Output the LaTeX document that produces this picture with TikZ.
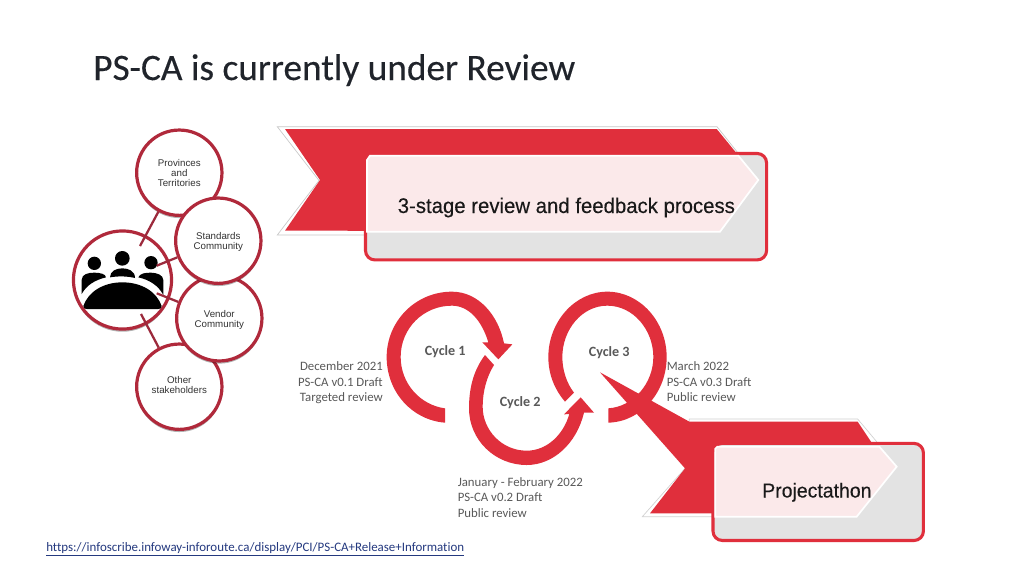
\documentclass[tikz,border=0pt]{standalone}
\usepackage{fontspec}
\setmainfont[Ligatures=NoCommon]{Carlito}
\newfontfamily\titlefont[FakeBold=0.3,Ligatures=NoCommon]{Carlito}
\newfontfamily\arialfont{Liberation Sans}
\newfontfamily\bannerfont[FakeStretch=0.96,FakeBold=0.25]{Liberation Sans}
\usetikzlibrary{shadows}
\definecolor{ribred}{HTML}{E02F3C}
\definecolor{ringred}{HTML}{B0293B}
\definecolor{linkred}{HTML}{9C2A3C}
\definecolor{boxgrey}{HTML}{E3E3E3}
\definecolor{pinkfill}{HTML}{FBE9EA}
\definecolor{labelgrey}{HTML}{595959}
\definecolor{linkblue}{HTML}{24397F}
\definecolor{titleink}{HTML}{20242B}
\tikzset{
  ring/.style={circle,draw=ringred,line width=2.4pt,fill=white,minimum size=64pt,inner sep=0pt,align=center,
    font=\arialfont\fontsize{7.3}{7.5}\selectfont,text=black!80,
    drop shadow={opacity=.3,shadow xshift=0pt,shadow yshift=-2pt,fill=black}},
  hub/.style={ring,minimum size=73.6pt},
  spoke/.style={draw=linkred,line width=1.7pt},
  redshape/.style={fill=ribred,draw=none},
  outline/.style={fill=white,draw=black!22,line width=.5pt},
  panel/.style={fill=boxgrey,draw=ribred,line width=2.3pt,rounded corners=7pt,outer sep=0pt,anchor=north west,inner sep=0pt},
  pinkpart/.style={fill=pinkfill,draw=white,line width=1.3pt},
  note/.style={inner sep=0pt,text=labelgrey,font=\fontsize{9.6}{11.7}\selectfont},
  cyclelabel/.style={inner sep=0pt,anchor=base west,text=labelgrey,font=\bfseries\fontsize{10.6}{12}\selectfont},
  boxlabel/.style={inner sep=0pt,anchor=base west,text=black!90}
}
\begin{document}
\begin{tikzpicture}[x=0.75pt,y=-0.75pt]
\useasboundingbox (0,0) rectangle (1024,576);
\fill[white] (0,0) rectangle (1024,576);

\node[inner sep=0pt,anchor=base west,text=titleink,font=\titlefont\fontsize{28}{30}\selectfont] (title) at (93,80) {PS-CA is currently under Review};

% hub and spokes
\node[hub] (hubnode) at (122.5,280) {};
\begin{scope}[shift={(60,120)},x=0.25pt,y=-0.25pt]
\fill[black] (103,430) circle (20) (187,415) circle (22) (273,428) circle (20);
\fill[black] (65,522) -- (65,480) .. controls (65,462) and (85,458) .. (103,458) .. controls (120,458) and (138,462) .. (138,472) .. controls (105,480) and (80,495) .. (65,522) -- cycle;
\fill[black] (150,472) .. controls (150,452) and (170,445) .. (187,445) .. controls (205,445) and (225,452) .. (225,474) .. controls (200,468) and (175,468) .. (150,472) -- cycle;
\fill[black] (235,472) .. controls (240,460) and (255,458) .. (273,458) .. controls (290,458) and (310,465) .. (310,480) -- (310,525) .. controls (295,497) and (270,480) .. (235,472) -- cycle;
\fill[black] (70,558) .. controls (85,515) and (130,487) .. (187,487) .. controls (245,487) and (290,515) .. (305,558) .. controls (305,565) and (300,567) .. (295,567) -- (80,567) .. controls (75,567) and (70,565) .. (70,558) -- cycle;
\end{scope}
\coordinate (pinA) at (140,246);
\coordinate (pinB) at (156.7,265.7);
\coordinate (pinC) at (156.7,293.3);
\coordinate (pinD) at (141,314);
\node[ring] (prov) at (179.3,172.7) {Provinces\\and\\Territories};
\node[ring] (other) at (179.3,386.7) {Other\\stakeholders\rule[-3pt]{0pt}{0pt}};
\node[ring] (vendor) at (219.3,318.3) {\rule{0pt}{8.2pt}Vendor\\Community};
\node[ring] (stand) at (218.3,240.7) {\rule{0pt}{6.8pt}Standards\\Community};
\draw[spoke] (prov) -- (pinA);
\draw[spoke] (stand) -- (pinB);
\draw[spoke] (vendor) -- (pinC);
\draw[spoke] (other) -- (pinD);

% banner 1
\draw[outline] (277.3,126.7) -- (717,126.7) -- (738,153) -- (738,235) -- (277.3,235) -- (319,180.5) -- cycle;
\fill[redshape] (285,129) -- (716.7,129) -- (738,155) -- (738,231) -- (285,230.7) -- (320,180) -- cycle;
\node[panel,minimum width=300.8pt,minimum height=79.8pt] (panelA) at (365.5,153.5) {};
\draw[pinkpart] (370,155.7) -- (738.3,155.7) -- (758.3,180) -- (720,231.7) -- (367,231.7) -- (367,160) -- cycle;
\node[boxlabel,font=\bannerfont\fontsize{15.9}{18}\selectfont] (labA) at (397.5,213) {3-stage review and feedback process};

% cycles
\begin{scope}[shift={(370,280)},x=0.25pt,y=-0.25pt]
\fill[redshape] (225,428) .. controls (125,420) and (50,335) .. (50,231) .. controls (50,125) and (135,35) .. (246,35) .. controls (325,35) and (385,105) .. (402,190) -- (427,193) -- (385,238) -- (337,187) -- (355,187) .. controls (335,120) and (295,77) .. (246,77) .. controls (160,77) and (92,145) .. (92,231) .. controls (92,310) and (150,375) .. (225,385) -- cycle;
\fill[redshape] (345,225) .. controls (315,265) and (297,315) .. (297,385) .. controls (297,480) and (375,555) .. (470,555) .. controls (550,555) and (620,490) .. (642,398) -- (672,398) -- (632,352) -- (582,403) -- (598,402) .. controls (580,465) and (530,512) .. (470,512) .. controls (395,512) and (338,450) .. (338,380) .. controls (338,335) and (350,290) .. (372,255) -- cycle;
\fill[redshape] (715,428) .. controls (815,425) and (890,335) .. (890,231) .. controls (890,125) and (810,35) .. (712,35) .. controls (615,35) and (535,125) .. (535,231) .. controls (535,285) and (555,330) .. (585,365) -- (612,338) .. controls (590,310) and (577,270) .. (577,231) .. controls (577,150) and (635,77) .. (712,77) .. controls (790,77) and (850,150) .. (850,231) .. controls (850,310) and (790,380) .. (715,385) -- cycle;
\end{scope}
\node[cyclelabel] (cA) at (424.5,355) {Cycle 1};
\node[cyclelabel] (cB) at (499.5,406.5) {Cycle 2};
\node[cyclelabel] (cC) at (588.5,356.5) {Cycle 3};

\node[note,anchor=north east,align=right] (nA) at (383,361.5) {December 2021\\PS-CA v0.1 Draft\\Targeted review};
\node[note,anchor=north west,align=left] (nB) at (457.5,477) {January - February 2022\\PS-CA v0.2 Draft\\Public review};
\node[note,anchor=north west,align=left] (nC) at (666.5,361.5) {March 2022\\PS-CA v0.3 Draft\\Public review};

% banner 2
\begin{scope}[shift={(590,360)},x=0.25pt,y=-0.25pt]
\draw[outline,draw=black!18] (298,177) -- (803,177) -- (860,245) -- (860,470) -- (157,470) -- (285,325) -- cycle;
\fill[redshape] (30,37) -- (298,185) -- (803,185) -- (845,248) -- (845,460) -- (180,460) -- (285,325) -- cycle;
\end{scope}
\node[panel,minimum width=157.8pt,minimum height=72.8pt] (panelB) at (713,443.4) {};
\begin{scope}[shift={(590,360)},x=0.25pt,y=-0.25pt]
\draw[pinkpart] (382,260) -- (868,260) -- (920,320) -- (800,470) -- (376,470) -- (376,266) -- cycle;
\end{scope}
\node[boxlabel,font=\bannerfont\fontsize{15.2}{18}\selectfont] (labB) at (762,497.5) {Projectathon};

\node[inner sep=0pt,anchor=base west,text=linkblue,font=\fontsize{9.7}{12}\selectfont] (url) at (46,551.5) {\underline{https://infoscribe.infoway-inforoute.ca/display/PCI/PS-CA+Release+Information}};
\end{tikzpicture}
\end{document}
